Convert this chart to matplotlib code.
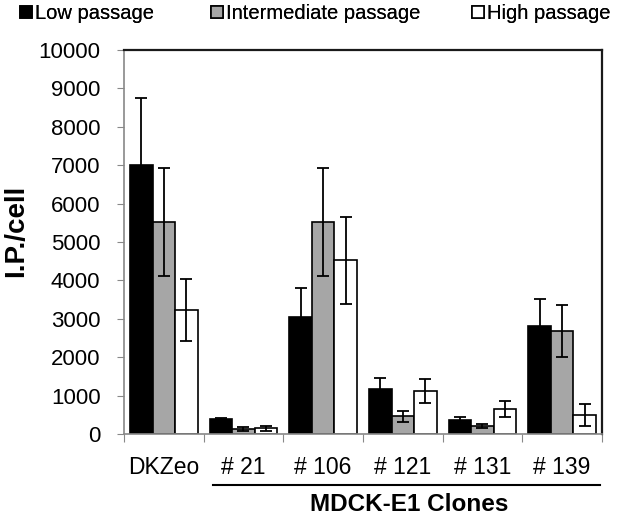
import matplotlib
matplotlib.use("Agg")
import matplotlib.pyplot as plt
import numpy as np

plt.rcParams['font.family'] = ['Liberation Sans', 'DejaVu Sans']

categories = ['DKZeo', '# 21', '# 106', '# 121', '# 131', '# 139']
low = [7000, 380, 3050, 1180, 370, 2820]
low_err = [1750, 30, 750, 280, 80, 700]
inter = [5520, 140, 5520, 460, 210, 2680]
inter_err = [1400, 50, 1400, 150, 60, 680]
high = [3230, 150, 4520, 1120, 650, 500]
high_err = [800, 70, 1130, 300, 200, 280]
series_names = ['Low passage', 'Intermediate passage', 'High passage']
colors = ['#000000', '#a6a6a6', '#ffffff']

W, H = 617, 519
fig = plt.figure(figsize=(W / 100, H / 100), dpi=100)
ax = fig.add_axes([124 / W, 1 - 434 / H, (602 - 124) / W, (434 - 50) / H])

x = np.arange(len(categories))
w = 0.283
bars = []
for k, (vals, errs) in enumerate([(low, low_err), (inter, inter_err), (high, high_err)]):
    b = ax.bar(x + (k - 1) * w, vals, w, color=colors[k], edgecolor='black',
               linewidth=1.2, zorder=2)
    ax.errorbar(x + (k - 1) * w, vals, yerr=errs, fmt='none', ecolor='black',
                elinewidth=1.3, capsize=4, capthick=1.3, zorder=3)
    bars.append(b)

ax.set_xlim(-0.5, len(categories) - 0.5)
ax.set_ylim(0, 10000)
ax.set_yticks(np.arange(0, 10001, 1000))
ax.tick_params(axis='y', labelsize=16, length=5, color='#888888', pad=12)

# category ticks sit between the groups
ax.set_xticks(np.arange(-0.5, len(categories), 1.0))
ax.set_xticklabels([])
ax.tick_params(axis='x', length=6, color='#888888', direction='out')
for i, c in enumerate(categories):
    ax.text(i, -870, c, ha='center', va='center', fontsize=16.5)

for s in ['left', 'bottom']:
    ax.spines[s].set_color('#888888')
    ax.spines[s].set_linewidth(1.2)
for s in ['top', 'right']:
    ax.spines[s].set_color('#1a1a1a')
    ax.spines[s].set_linewidth(1.6)

ax.set_ylabel('I.P./cell', fontsize=20, fontweight='bold')
ax.yaxis.set_label_coords((29 - 124) / 478, (434 - 231) / 384)

# group underline + label for the clones
ax.plot([0.62, 5.47], [-1330, -1330], color='black', lw=1.5, clip_on=False)
ax.text(3.08, -1830, 'MDCK-E1 Clones', ha='center', va='center',
        fontsize=17.5, fontweight='bold')

# legend entries spread across the top
leg_x = [20, 211, 472]
for k in range(3):
    lg = fig.legend(handles=[bars[k]], labels=[series_names[k]], loc='upper left',
                    bbox_to_anchor=(leg_x[k] / W, 1 - 4 / H), frameon=False,
                    fontsize=14.5, handlelength=0.6, handleheight=0.6,
                    handletextpad=0.15, borderpad=0, borderaxespad=0)
    fig.add_artist(lg)

fig.savefig('out.png', dpi=100)
